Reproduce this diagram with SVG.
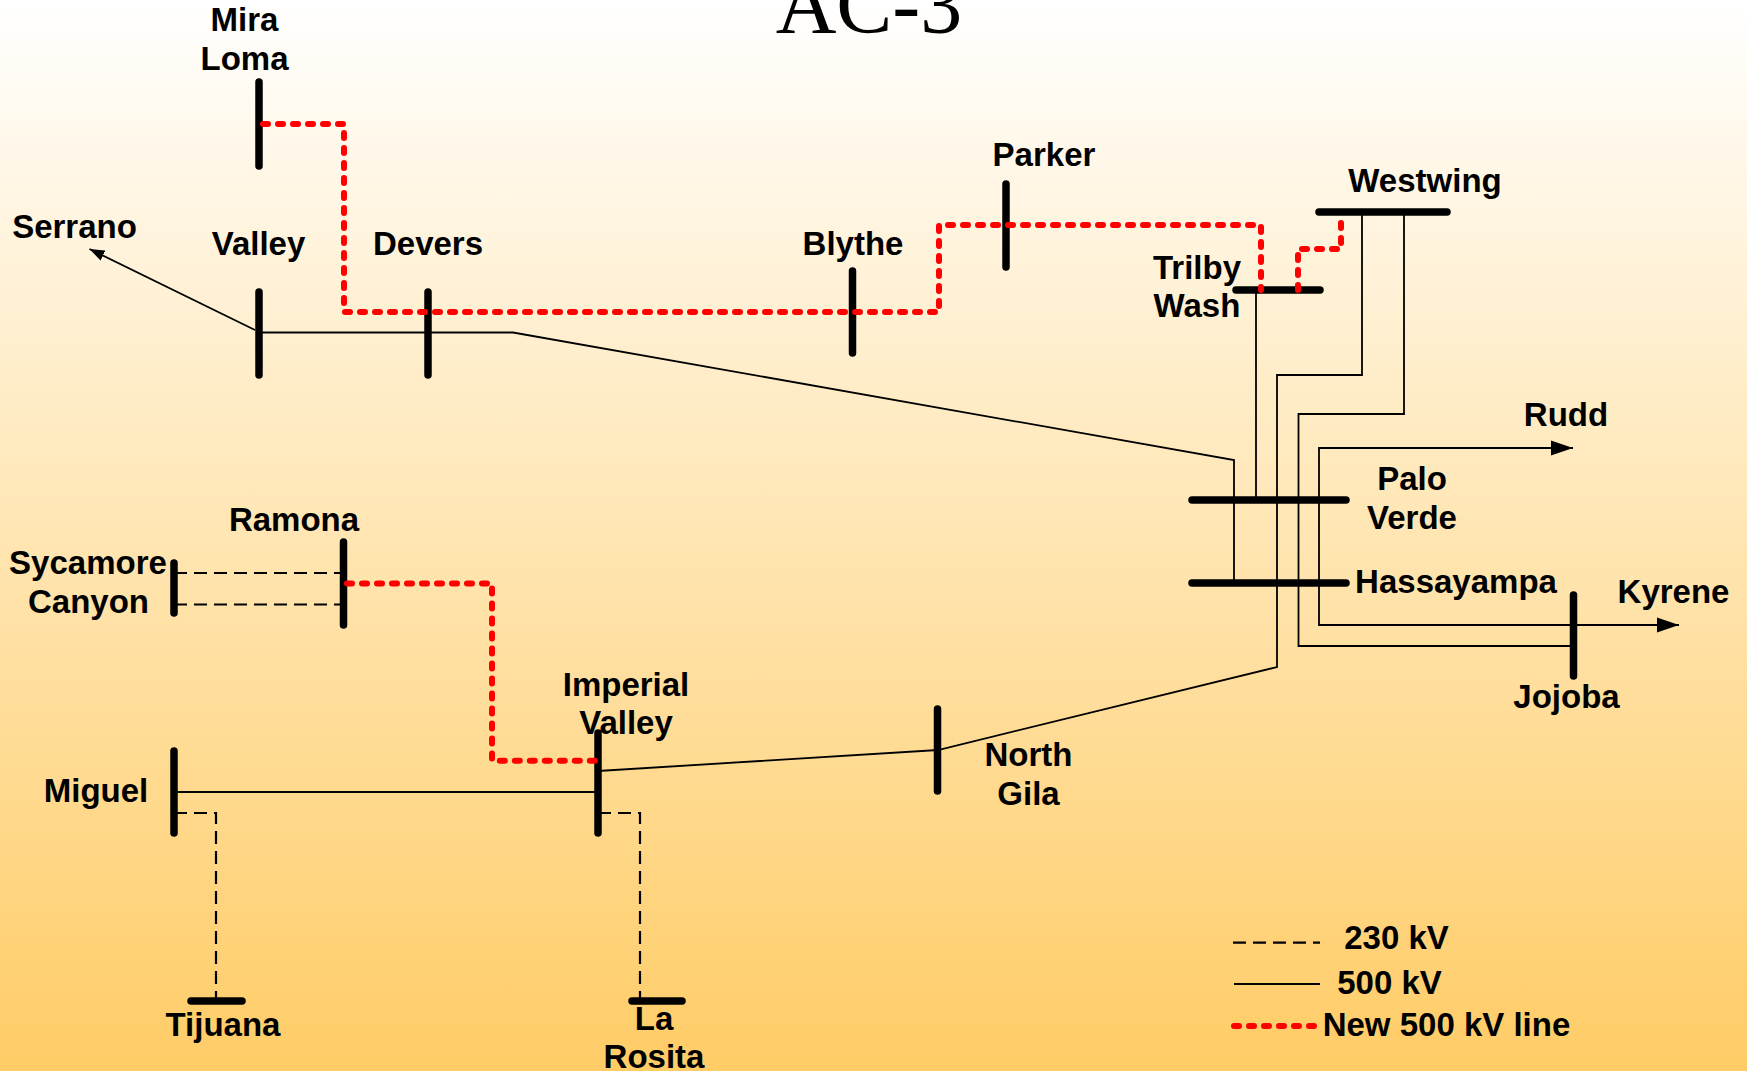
<svg xmlns="http://www.w3.org/2000/svg" width="1747" height="1071" viewBox="0 0 1747 1071">
<style>
.bar{stroke:#000;stroke-width:7.5;stroke-linecap:round;fill:none}
.t{font-family:"Liberation Sans",Arial,sans-serif;font-weight:700;font-size:33px;fill:#000;text-anchor:middle}
.ttl{font-family:"Liberation Serif","Times New Roman",serif;font-size:84px;fill:#000;text-anchor:middle}
.k5{stroke:#000;stroke-width:1.8;fill:none;stroke-linejoin:miter}
.k2{stroke:#000;stroke-width:2.2;fill:none;stroke-dasharray:13 7}
.nw{stroke:#f00;stroke-width:6;fill:none;stroke-dasharray:5 10;stroke-linecap:round;stroke-linejoin:round}
</style>
<defs>
<linearGradient id="bg" x1="0" y1="0" x2="0" y2="1"><stop offset="0" stop-color="#fff"/><stop offset="1" stop-color="#fc6"/></linearGradient>
<marker id="big" markerUnits="userSpaceOnUse" markerWidth="22" markerHeight="16" refX="22" refY="8" orient="auto"><path d="M0 0.5L22 8L0 15.5z" fill="#000"/></marker>
<marker id="small" markerUnits="userSpaceOnUse" markerWidth="15" markerHeight="12" refX="15" refY="6" orient="auto"><path d="M0 0.5L15 6L0 11.5z" fill="#000"/></marker>
</defs>
<rect width="1747" height="1071" fill="url(#bg)"/>
<text class="ttl" x="869" y="33">AC-3</text>
<g id="nodes">
<g id="mira-loma"><line class="bar" x1="259" y1="82" x2="259" y2="166"/><text class="t" x="244.500" y="31">Mira</text><text class="t" x="244.500" y="70">Loma</text></g>
<g id="serrano"><text class="t" x="74.500" y="238">Serrano</text></g>
<g id="valley"><line class="bar" x1="259" y1="292" x2="259" y2="375"/><text class="t" x="258.500" y="255">Valley</text></g>
<g id="devers"><line class="bar" x1="428" y1="292" x2="428" y2="375"/><text class="t" x="428" y="255">Devers</text></g>
<g id="blythe"><line class="bar" x1="852.500" y1="271" x2="852.500" y2="353"/><text class="t" x="853" y="255">Blythe</text></g>
<g id="parker"><line class="bar" x1="1006" y1="184" x2="1006" y2="267"/><text class="t" x="1044" y="166">Parker</text></g>
<g id="westwing"><line class="bar" x1="1319" y1="212" x2="1447" y2="212"/><text class="t" x="1425" y="192">Westwing</text></g>
<g id="trilby-wash"><line class="bar" x1="1236" y1="290" x2="1320" y2="290"/><text class="t" x="1197" y="278.500">Trilby</text><text class="t" x="1197" y="316.500">Wash</text></g>
<g id="palo-verde"><line class="bar" x1="1192" y1="500" x2="1346" y2="500"/><text class="t" x="1412" y="490">Palo</text><text class="t" x="1412" y="529">Verde</text></g>
<g id="hassayampa"><line class="bar" x1="1192" y1="583" x2="1346" y2="583"/><text class="t" x="1456" y="593">Hassayampa</text></g>
<g id="rudd"><text class="t" x="1566" y="426">Rudd</text></g>
<g id="kyrene"><text class="t" x="1673.500" y="603">Kyrene</text></g>
<g id="jojoba"><line class="bar" x1="1573.500" y1="595" x2="1573.500" y2="676"/><text class="t" x="1566.500" y="708">Jojoba</text></g>
<g id="ramona"><line class="bar" x1="343.500" y1="542" x2="343.500" y2="625"/><text class="t" x="294" y="531">Ramona</text></g>
<g id="sycamore-canyon"><line class="bar" x1="174" y1="563" x2="174" y2="613"/><text class="t" x="88" y="574">Sycamore</text><text class="t" x="88.500" y="613">Canyon</text></g>
<g id="imperial-valley"><line class="bar" x1="598" y1="733" x2="598" y2="833"/><text class="t" x="626" y="695.500">Imperial</text><text class="t" x="626" y="734">Valley</text></g>
<g id="north-gila"><line class="bar" x1="937.500" y1="709" x2="937.500" y2="791"/><text class="t" x="1028.500" y="766">North</text><text class="t" x="1028.500" y="805">Gila</text></g>
<g id="miguel"><line class="bar" x1="174" y1="751" x2="174" y2="833"/><text class="t" x="96" y="802">Miguel</text></g>
<g id="tijuana"><line class="bar" x1="191" y1="1001" x2="242" y2="1001"/><text class="t" x="223" y="1036">Tijuana</text></g>
<g id="la-rosita"><line class="bar" x1="632" y1="1001" x2="682" y2="1001"/><text class="t" x="654" y="1030">La</text><text class="t" x="654" y="1068">Rosita</text></g>
</g>
<g id="connectors">
<path class="k5" d="M1573 448H1319V625H1679" marker-end="url(#big)"/>
<path class="k5" d="M1319 448H1573" marker-end="url(#big)"/>
<path class="k5" d="M255 330L89.500 249" marker-end="url(#small)"/>
<path class="k5" d="M259 332.500H513L1234 460V583"/>
<path class="k5" d="M1256 290V500"/>
<path class="k5" d="M1362 212V375H1277V667L938 750L598 771"/>
<path class="k5" d="M1404 212V414H1298.500V646H1573"/>
<path class="k5" d="M174 792H598"/>
<path class="k2" d="M174 573H343"/>
<path class="k2" d="M174 604.500H343"/>
<path class="k2" d="M174 813H216V1001"/>
<path class="k2" d="M598 813H640V1001"/>
<path class="nw" d="M263 124H344V312H939V225H1261V290"/>
<path class="nw" d="M1298 290V249H1341V220"/>
<path class="nw" d="M347 583.500H492V760.700H599"/>
</g>
<g id="legend">
<path class="k2" d="M1233 942.700H1320"/>
<path class="k5" d="M1234 984H1320"/>
<path class="nw" d="M1234 1026H1318"/>
<text class="t" x="1396.500" y="948.500">230 kV</text>
<text class="t" x="1389.500" y="993.500">500 kV</text>
<text class="t" x="1446.500" y="1036">New 500 kV line</text>
</g>
</svg>
